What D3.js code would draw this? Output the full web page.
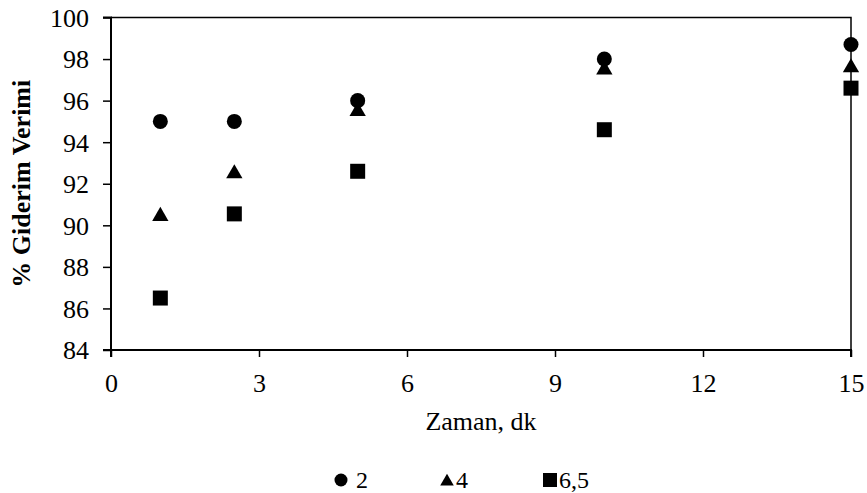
<!DOCTYPE html>
<html>
<head>
<meta charset="utf-8">
<script src="https://cdn.jsdelivr.net/npm/d3@7"></script>
<style>
  html, body { margin: 0; padding: 0; background: #fff; }
  svg text { font-family: "Liberation Serif", "Times New Roman", serif; fill: #000; }
</style>
</head>
<body>
<svg id="chart" width="867" height="493"></svg>
<script>
// Removal efficiency over time for three pH levels
const times = [1, 2.5, 5, 10, 15];
const seriesNames = ["2", "4", "6,5"];
const ph2 = [95.0, 95.0, 96.0, 98.0, 98.7];
const ph4 = [90.55, 92.6, 95.6, 97.6, 97.7];
const ph65 = [86.5, 90.55, 92.6, 94.6, 96.6];
const xTicks = [0, 3, 6, 9, 12, 15];
const yTicks = [84, 86, 88, 90, 92, 94, 96, 98, 100];

const svg = d3.select("#chart");
const plotLeft = 111, plotRight = 851, plotTop = 17.5, plotBottom = 350;

const x = d3.scaleLinear().domain([0, 15]).range([plotLeft, plotRight]);
const y = d3.scaleLinear().domain([84, 100]).range([plotBottom, plotTop]);
const FS = 26;

// plot frame (top and right edges)
svg.append("path")
  .attr("d", `M${x(0)},${y(100)}H${x(15)}V${y(84)}`)
  .attr("fill", "none").attr("stroke", "#000").attr("stroke-width", 1.5);

const yAxis = svg.append("g")
  .attr("transform", `translate(${x(0)},0)`)
  .call(d3.axisLeft(y).tickValues(yTicks).tickSize(8).tickPadding(14).tickFormat(d3.format("d")));
const xAxis = svg.append("g")
  .attr("transform", `translate(0,${y(84)})`)
  .call(d3.axisBottom(x).tickValues(xTicks).tickSize(7).tickFormat(d3.format("d")));

[yAxis, xAxis].forEach(g => {
  g.attr("font-family", null).attr("font-size", null);
  g.select(".domain").attr("stroke", "#000").attr("stroke-width", 2);
  g.selectAll(".tick line").attr("stroke", "#000").attr("stroke-width", 1.5);
  g.selectAll(".tick text").attr("font-size", FS);
});
yAxis.selectAll(".tick text").attr("dy", "0.34em");
xAxis.selectAll(".tick text").attr("y", 42).attr("dy", 0);
yAxis.select(".domain").attr("d", `M-8,${y(84)}H0V${y(100)}H-8`);
xAxis.select(".domain").attr("d", `M${x(0)},7V0H${x(15)}V7`);

// axis titles
svg.append("text")
  .attr("x", (x(0) + x(15)) / 2).attr("y", 430)
  .attr("text-anchor", "middle").attr("font-size", FS)
  .text("Zaman, dk");
svg.append("text")
  .attr("transform", `translate(30,${(y(84) + y(100)) / 2}) rotate(-90)`)
  .attr("text-anchor", "middle").attr("font-size", FS).attr("font-weight", "bold")
  .text("% Giderim Verimi");

const symbols = [d3.symbolCircle, d3.symbolTriangle, d3.symbolSquare];
const sizes = [177, 115, 225];
const allSeries = [ph2, ph4, ph65];
// shift triangles so their bounding box centre sits on the value
const triShift = Math.sqrt(115 / (Math.sqrt(3) * 3)) * 0.5;

allSeries.forEach((vals, i) => {
  svg.append("g").selectAll("path")
    .data(vals.map((v, j) => ({ t: times[j], v })))
    .join("path")
    .attr("transform", d => `translate(${x(d.t)},${y(d.v) + (i === 1 ? triShift : 0)})`)
    .attr("d", d3.symbol().type(symbols[i]).size(sizes[i]))
    .attr("fill", "#000");
});

// legend
const legendX = [341, 447, 550];
const legendTextX = [356, 456, 559];
const legendY = 480;
const legendSizes = [133, 80, 196];
seriesNames.forEach((name, i) => {
  svg.append("path")
    .attr("transform", `translate(${legendX[i]},${legendY + (i === 1 ? 1.5 : 0)})`)
    .attr("d", d3.symbol().type(symbols[i]).size(legendSizes[i]))
    .attr("fill", "#000");
  svg.append("text")
    .attr("x", legendTextX[i]).attr("y", 488)
    .attr("font-size", 24)
    .text(name);
});
</script>
</body>
</html>
